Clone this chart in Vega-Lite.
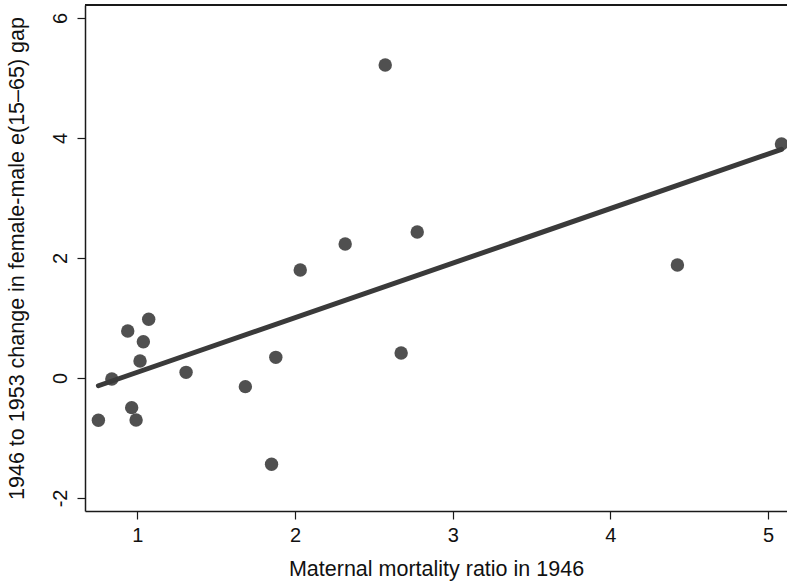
{
  "$schema": "https://vega.github.io/schema/vega-lite/v6.json",
  "width": 702,
  "height": 506,
  "autosize": "none",
  "padding": {"left": 85, "top": 5, "right": 0, "bottom": 73},
  "background": "white",
  "config": {
    "view": {"stroke": null},
    "font": "Liberation Sans",
    "axis": {
      "grid": false,
      "domainColor": "#1a1a1a",
      "domainWidth": 1.5,
      "tickColor": "#1a1a1a",
      "tickWidth": 1.2,
      "tickSize": 8,
      "labelFont": "Liberation Sans",
      "labelFontSize": 20,
      "labelColor": "#111",
      "labelExpr": "datum.value + ''",
      "titleFont": "Liberation Sans",
      "titleFontSize": 21.5,
      "titleFontWeight": "normal",
      "titleColor": "#111"
    }
  },
  "data": {
    "values": [
      {"mmr": 0.753, "gap": -0.705},
      {"mmr": 0.838, "gap": -0.017},
      {"mmr": 0.939, "gap": 0.783},
      {"mmr": 1.072, "gap": 0.978},
      {"mmr": 1.038, "gap": 0.605},
      {"mmr": 1.017, "gap": 0.283},
      {"mmr": 1.309, "gap": 0.094},
      {"mmr": 0.964, "gap": -0.494},
      {"mmr": 0.992, "gap": -0.7},
      {"mmr": 1.685, "gap": -0.144},
      {"mmr": 1.878, "gap": 0.344},
      {"mmr": 1.851, "gap": -1.439},
      {"mmr": 2.033, "gap": 1.8},
      {"mmr": 2.318, "gap": 2.233},
      {"mmr": 2.572, "gap": 5.217},
      {"mmr": 2.673, "gap": 0.417},
      {"mmr": 2.775, "gap": 2.433},
      {"mmr": 4.425, "gap": 1.883},
      {"mmr": 5.085, "gap": 3.9}
    ]
  },
  "layer": [
    {
      "mark": {"type": "rule", "color": "#1a1a1a", "strokeWidth": 1.5},
      "encoding": {"y": {"datum": 6.217, "type": "quantitative"}}
    },
    {
      "mark": {"type": "circle", "size": 180, "color": "#505050", "opacity": 1},
      "encoding": {
        "x": {
          "field": "mmr",
          "type": "quantitative",
          "scale": {"domain": [0.668, 5.12], "nice": false, "zero": false},
          "axis": {
            "title": "Maternal mortality ratio in 1946",
            "values": [1, 2, 3, 4, 5],
            "labelPadding": 6,
            "titlePadding": 13
          }
        },
        "y": {
          "field": "gap",
          "type": "quantitative",
          "scale": {"domain": [-2.217, 6.217], "nice": false, "zero": false},
          "axis": {
            "title": "1946 to 1953 change in female-male e(15–65) gap",
            "values": [-2, 0, 2, 4, 6],
            "labelAngle": 270,
            "labelAlign": "center",
            "labelBaseline": "bottom",
            "labelPadding": 7,
            "titlePadding": 22
          }
        }
      }
    },
    {
      "transform": [{"regression": "gap", "on": "mmr"}],
      "mark": {"type": "line", "color": "#3a3a3a", "strokeWidth": 5, "strokeCap": "round"},
      "encoding": {
        "x": {"field": "mmr", "type": "quantitative"},
        "y": {"field": "gap", "type": "quantitative"}
      }
    }
  ]
}
